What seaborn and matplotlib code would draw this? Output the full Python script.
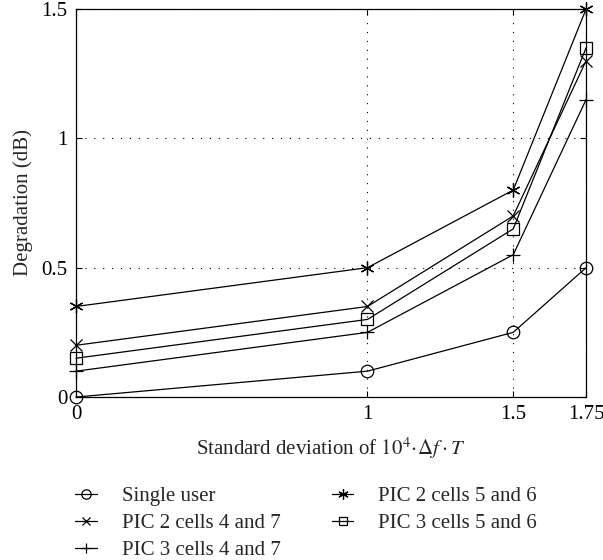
import numpy as np
import pandas as pd
import matplotlib
matplotlib.use("Agg")
import matplotlib.pyplot as plt
import seaborn as sns

# Data
std_dev = [0, 1, 1.5, 1.75]
single_user = [0.0, 0.10, 0.25, 0.50]
pic2_47 = [0.20, 0.35, 0.70, 1.30]
pic3_47 = [0.10, 0.25, 0.55, 1.15]
pic2_56 = [0.35, 0.50, 0.80, 1.50]
pic3_56 = [0.15, 0.30, 0.65, 1.35]

series = [
    ("Single user", single_user, "o", 9),
    ("PIC 2 cells 4 and 7", pic2_47, "x", 8),
    ("PIC 3 cells 4 and 7", pic3_47, "+", 10),
    ("PIC 2 cells 5 and 6", pic2_56, (6, 2, 0), 10),
    ("PIC 3 cells 5 and 6", pic3_56, "s", 8),
]

FS = 15

sns.set_theme(style="ticks")
plt.rcParams["font.family"] = ["Liberation Serif", "DejaVu Serif"]
plt.rcParams["mathtext.fontset"] = "stix"

fig = plt.figure(figsize=(6.03, 5.6), dpi=100)
ax = fig.add_axes([0.126, 0.291, 0.846, 0.693])

for label, vals, mk, ms in series:
    df = pd.DataFrame({"x": std_dev, "y": vals})
    sns.lineplot(data=df, x="x", y="y", ax=ax, color="black", linewidth=0.9,
                 marker=mk, markersize=ms, markerfacecolor="none",
                 markeredgecolor="black", markeredgewidth=0.9, label=label,
                 clip_on=False, zorder=3)

ax.set_xlim(0, 1.75)
ax.set_ylim(0, 1.5)
ax.set_xticks(std_dev)
ax.set_xticklabels(["0", "1", "1.5", "1.75"])
ax.set_yticks([0, 0.5, 1, 1.5])
ax.set_yticklabels(["0", "0.5", "1", "1.5"])
ax.tick_params(direction="in", top=True, right=True, length=4, width=0.8,
               labelsize=FS, colors="black", pad=6)
ax.grid(True, linestyle=(0, (1, 7)), color="black", linewidth=0.8)
for s in ax.spines.values():
    s.set_linewidth(0.9)
    s.set_color("black")

ax.set_xlabel(r"Standard deviation of $10^4\!\cdot\!\Delta f\cdot T$", fontsize=FS, labelpad=8)
ax.set_ylabel("Degradation (dB)", fontsize=FS, labelpad=6)

handles, labels = ax.get_legend_handles_labels()
ax.legend(handles, labels, ncol=2, frameon=False, fontsize=FS,
          loc="upper left", bbox_to_anchor=(0.124, 0.131),
          bbox_transform=fig.transFigure, handlelength=1.05,
          handletextpad=1.2, columnspacing=2.45, labelspacing=0.36,
          borderaxespad=0, borderpad=0, markerscale=0.75)

fig.savefig("out.png", dpi=100)
